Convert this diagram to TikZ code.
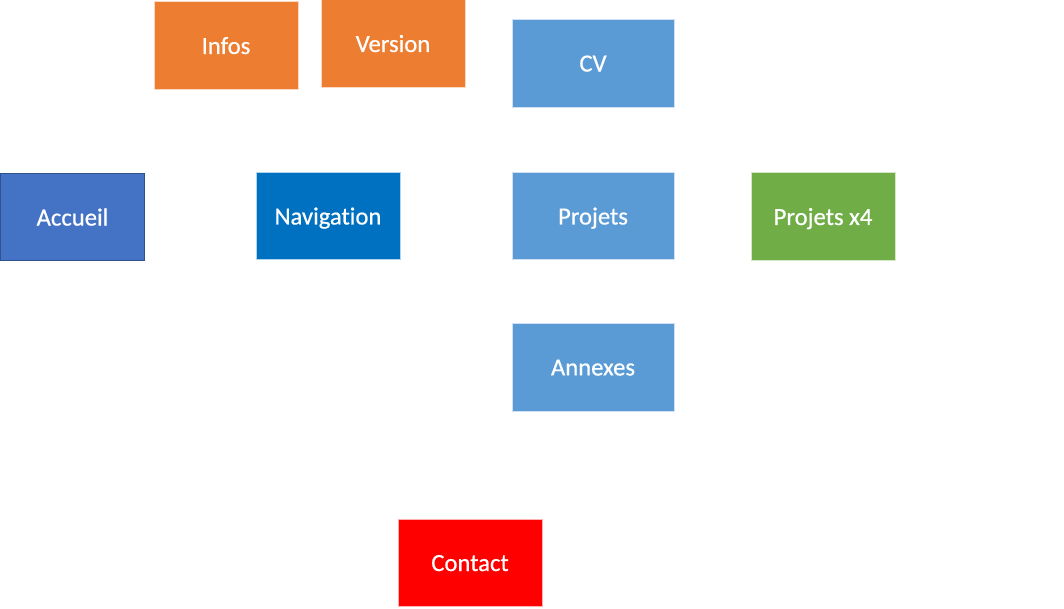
\documentclass[tikz,border=0pt]{standalone}
\usepackage{fontspec}
\setmainfont{Carlito}[Ligatures={NoCommon}]
\newfontfamily\boxfont{Carlito}[Ligatures={NoCommon}, FakeBold=0.6]
\definecolor{orangeA}{HTML}{ED7D31}
\definecolor{blueA}{HTML}{5B9BD5}
\definecolor{blueB}{HTML}{4472C4}
\definecolor{blueBd}{HTML}{2F528F}
\definecolor{blueC}{HTML}{0070C0}
\definecolor{greenA}{HTML}{70AD47}
\definecolor{redA}{HTML}{FF0000}
\begin{document}
\begin{tikzpicture}[x=0.75pt,y=-0.75pt,
  box/.style={rectangle, inner sep=0pt, text=white, font=\boxfont\fontsize{18.5}{22}\selectfont,
    draw=white!70!#1, line width=0.6pt, fill=#1, text depth=0pt},
  small/.style={minimum width=108pt, minimum height=65.5pt},
  wide/.style={minimum width=121.5pt, minimum height=65.5pt}]
\useasboundingbox (0,0) rectangle (1064,608);
\node[box=orangeA, small] (infos) at (226,45.5) {Infos};
\node[box=orangeA, small] (version) at (393,43.5) {Version};
\node[box=blueA, wide] (cv) at (593,63.5) {CV};
\node[box=blueB, small, draw=blueBd, line width=1.1pt] (accueil) at (72.5,217) {Accueil};
\node[box=blueC, small] (nav) at (328,216) {Navigation};
\node[box=blueA, wide] (projets) at (593,216) {Projets};
\node[box=greenA, small] (projets4) at (823,216.5) {Projets x4};
\node[box=blueA, wide] (annexes) at (593,367.5) {Annexes};
\node[box=redA, small] (contact) at (470,563) {Contact};
\end{tikzpicture}
\end{document}
